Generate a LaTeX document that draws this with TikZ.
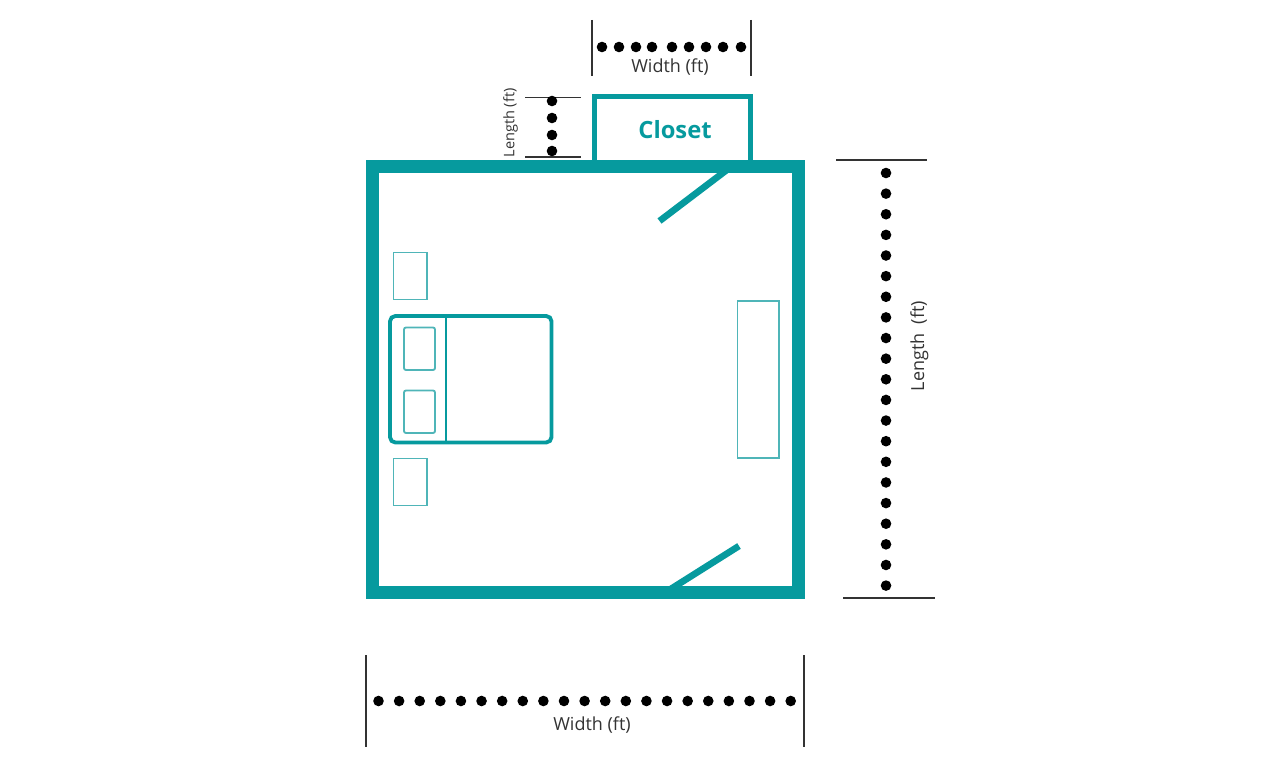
\documentclass[tikz,border=0pt]{standalone}
\usepackage{fontspec}
\setmainfont{Open Sans}
\definecolor{couleurmur}{HTML}{069A9E}
\definecolor{couleurmince}{HTML}{4FB5B8}
\definecolor{couleurcote}{HTML}{333333}
\newcommand{\pointcote}[2]{\fill[black] (#1,#2) circle (5.3);}
\tikzset{
		mur/.style={draw=couleurmur, line width=9.75pt, line join=miter},
		placard/.style={draw=couleurmur, line width=3.6pt},
		porte/.style={draw=couleurmur, line width=5pt},
		lit/.style={draw=couleurmur, line width=2.9pt, rounded corners=4pt},
		meuble/.style={draw=couleurmince, line width=1.4pt},
		oreiller/.style={draw=couleurmince, line width=1.4pt, rounded corners=1.5pt},
		cote/.style={draw=couleurcote, line width=0.8pt},
		etiquette/.style={text=couleurcote, font=\fontsize{13.5}{16}\selectfont, inner sep=0pt},
		titre/.style={text=couleurmur, font=\fontsize{17.8}{20}\selectfont\bfseries, inner sep=0pt}
	}
\begin{document}
\begin{tikzpicture}[x=0.75pt, y=-0.75pt]
		\useasboundingbox (0,0) rectangle (1262,780);
		% placard
		\draw[placard] (594.5,160) -- (594.5,96.5) -- (750.5,96.5) -- (750.5,160);
		\node[titre](closet) at (675,130){Closet};
		% portes
		\draw[porte] (730,167.5) -- (659.5,221);
		\draw[porte] (666,592) -- (739,546);
		% chambre
		\draw[mur] (372.5,166.5) rectangle (798.5,592.5);
		% meubles
		\draw[meuble] (393.5,252.5) rectangle (427,299.5);
		\draw[meuble] (393.5,458.5) rectangle (427,505.5);
		\draw[meuble] (737.5,301) rectangle (779,458);
		% lit
		\draw[lit] (390,316) rectangle (551.5,442.5);
		\draw[couleurmur, line width=1.8pt] (446,316) -- (446,442.5);
		\draw[oreiller] (404,327.5) rectangle (435,370);
		\draw[oreiller] (404,390.5) rectangle (435,433);
		% cotes du haut
		\draw[cote] (592,20) -- (592,76);
		\draw[cote] (751,20) -- (751,76);
		\foreach \x in {602,619,636,652,672,689,706,723,741}{\pointcote{\x}{47}}
		\node[etiquette](largplac) at (670,67){Width (ft)};
		% cotes du placard
		\draw[cote] (525,97.5) -- (581,97.5);
		\draw[cote] (525,157) -- (581,157);
		\foreach \y in {101,118,135,151}{\pointcote{552}{\y}}
		\node[etiquette, rotate=90, font=\fontsize{10.9}{12}\selectfont](longplac) at (510.5,123){Length (ft)};
		% cotes de droite
		\draw[cote] (836,160) -- (927,160);
		\draw[cote] (843,598) -- (935,598);
		\foreach \i in {0,...,20}{\pointcote{886}{173+20.63*\i}}
		\node[etiquette, rotate=90](longchbr) at (919.5,346){Length~~(ft)};
		% cotes du bas
		\draw[cote] (366,655) -- (366,747);
		\draw[cote] (804,655) -- (804,747);
		\foreach \i in {0,...,20}{\pointcote{378.5+20.61*\i}{701}}
		\node[etiquette](largchbr) at (592,725){Width (ft)};
	\end{tikzpicture}
\end{document}
